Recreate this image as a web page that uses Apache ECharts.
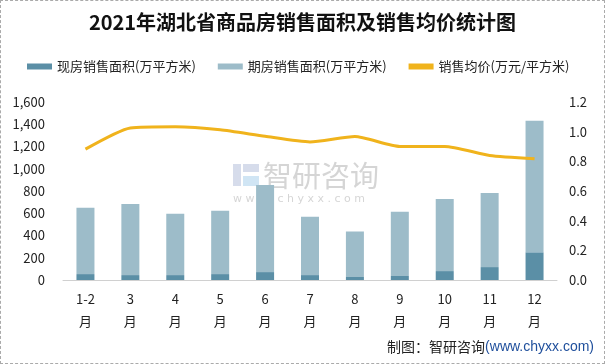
<!DOCTYPE html>
<html><head><meta charset="utf-8">
<script src="https://cdn.jsdelivr.net/npm/echarts@6/dist/echarts.min.js"></script>
<style>
html,body{margin:0;padding:0;background:#fff;}
#c{width:605px;height:364px;box-sizing:border-box;border:1px dashed #aaa;}
</style></head>
<body><div id="c"></div>
<script>
const categories = ['1-2\n月','3\n月','4\n月','5\n月','6\n月','7\n月','8\n月','9\n月','10\n月','11\n月','12\n月'];
const existingArea = [53, 44, 44, 53, 71, 44, 27, 36, 80, 116, 249];
const totalArea = [649, 684, 596, 622, 853, 569, 436, 613, 729, 782, 1431];
const forwardArea = totalArea.map((t, i) => t - existingArea[i]);
const avgPrice = [0.882, 1.025, 1.033, 1.013, 0.969, 0.931, 0.967, 0.900, 0.900, 0.840, 0.818];
const leftTicks = [0, 1600, 200];
const rightTicks = [0, 1.2, 0.2];

const chart = echarts.init(document.getElementById('c'));
const font = '"Noto Sans CJK SC", sans-serif';
chart.setOption({
  animation: false,
  title: {
    text: '2021年湖北省商品房销售面积及销售均价统计图',
    left: 'center', top: 6,
    textStyle: {fontFamily: '"Noto Sans CJK SC", serif', fontSize: 20, fontWeight: 'bold', color: '#111'}
  },
  legend: {
    top: 54, left: 21, itemGap: 22, itemWidth: 25, itemHeight: 6,
    textStyle: {fontFamily: font, fontSize: 13, color: '#222'},
    data: [
      {name: '现房销售面积(万平方米)', icon: 'rect'},
      {name: '期房销售面积(万平方米)', icon: 'rect'},
      {name: '销售均价(万元/平方米)', icon: 'rect'}
    ]
  },
  grid: {left: 62, right: 47, top: 101, bottom: 83},
  xAxis: {
    type: 'category', data: categories,
    axisLine: {lineStyle: {color: '#d0d0d0'}},
    axisTick: {show: false},
    axisLabel: {fontFamily: font, fontSize: 13, color: '#222', lineHeight: 22, margin: 8}
  },
  yAxis: [
    {type: 'value', min: leftTicks[0], max: leftTicks[1], interval: leftTicks[2],
     splitLine: {show: false}, axisLine: {show: false}, axisTick: {show: false},
     axisLabel: {fontFamily: font, fontSize: 13, color: '#222', margin: 18,
       formatter: v => v.toLocaleString('en-US')}},
    {type: 'value', min: rightTicks[0], max: rightTicks[1], interval: rightTicks[2],
     splitLine: {show: false}, axisLine: {show: false}, axisTick: {show: false},
     axisLabel: {fontFamily: font, fontSize: 13, color: '#222', margin: 12,
       formatter: v => v.toFixed(1)}}
  ],
  series: [
    {name: '现房销售面积(万平方米)', type: 'bar', stack: 'a', barWidth: 18,
     itemStyle: {color: '#5b8fa6'}, data: existingArea},
    {name: '期房销售面积(万平方米)', type: 'bar', stack: 'a', barWidth: 18,
     itemStyle: {color: '#9dbcc9'}, data: forwardArea},
    {name: '销售均价(万元/平方米)', type: 'line', yAxisIndex: 1, smooth: 0.2,
     symbol: 'none', lineStyle: {color: '#f0b31c', width: 3}, itemStyle: {color: '#f0b31c'},
     data: avgPrice}
  ],
  graphic: [
    {type: 'group', left: 232, top: 163, z: 0, silent: true, children: [
      {type: 'rect', shape: {x: 0, y: 2, width: 8, height: 22}, style: {fill: 'rgba(120,140,190,0.3)'}},
      {type: 'rect', shape: {x: 10, y: 2, width: 16, height: 8}, style: {fill: 'rgba(120,140,190,0.3)'}},
      {type: 'rect', shape: {x: 10, y: 14, width: 16, height: 10}, style: {fill: 'rgba(100,170,220,0.3)'}}
    ]},
    {type: 'text', left: 262, top: 160, z: 0, silent: true,
     style: {text: '智研咨询', font: '29px "Noto Sans CJK SC"', fill: 'rgba(150,150,150,0.4)'}},
    {type: 'text', left: 232, top: 193, z: 0, silent: true,
     style: {text: 'w w w . c h y x x . c o m', font: '11px "DejaVu Sans"', fill: 'rgba(150,150,150,0.4)'}},
    {type: 'text', right: 10, top: 339,
     style: {rich: {a: {fontFamily: font, fontSize: 14, fill: '#222'}, b: {fontFamily: 'Liberation Sans, sans-serif', fontSize: 14, fill: '#1f4f9c'}},
       text: '{a|制图：智研咨询}{b|(www.chyxx.com)}'}}
  ]
});
</script></body></html>
